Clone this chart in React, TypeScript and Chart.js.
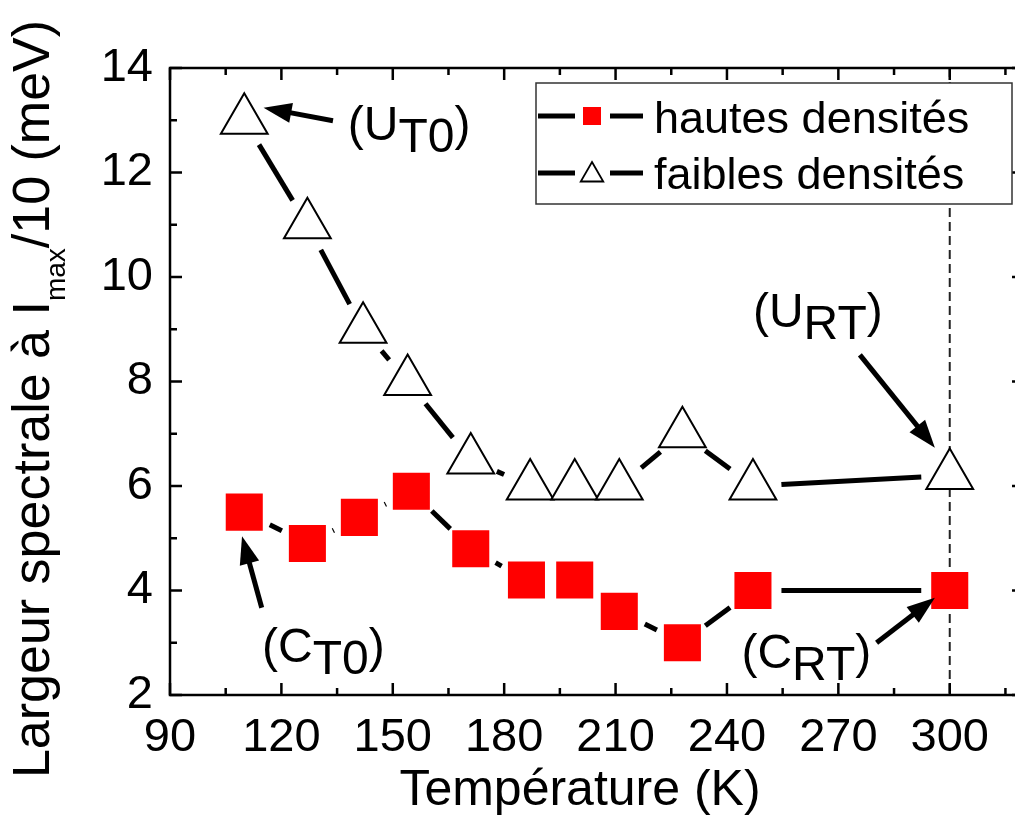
import React, { useEffect, useRef } from 'react';
import { Chart, registerables } from 'chart.js';

Chart.register(...registerables);

const FONT = '"Liberation Sans", Arial, Helvetica, sans-serif';

// ---- data ----
const tempHautes = [110, 127, 141, 155, 171, 186, 199, 211, 228, 247, 300];
const largeurHautes = [5.5, 4.9, 5.4, 5.9, 4.8, 4.2, 4.2, 3.6, 3.0, 4.0, 4.0];
const tempFaibles = [110, 127, 142, 154, 171, 187, 199, 211, 228, 247, 300];
const largeurFaibles = [13.0, 11.0, 9.0, 8.0, 6.5, 6.0, 6.0, 6.0, 7.0, 6.0, 6.2];
const seriesLabels = ['hautes densités', 'faibles densités'];
const xTicks = [90, 120, 150, 180, 210, 240, 270, 300];
const yTicks = [2, 4, 6, 8, 10, 12, 14];
const xTitle = 'Température (K)';
const yTitleParts = ['Largeur spectrale à I', 'max', '/10 (meV)'];
const refLineT = 300;

// annotation labels: text anchor and arrow (data coordinates)
const annotLabels = [
  { main: 'U', sub: 'T0', tx: 137.9, ty: 12.62, from: [133.9, 12.99], to: [115.2, 13.24] },
  { main: 'U', sub: 'RT', tx: 247.0, ty: 9.04, from: [275.8, 8.51], to: [296.0, 6.73] },
  { main: 'C', sub: 'T0', tx: 114.8, ty: 2.63, from: [114.7, 3.67], to: [109.4, 5.04] },
  { main: 'C', sub: 'RT', tx: 243.9, ty: 2.52, from: [280.3, 3.0], to: [296.0, 3.86] },
];

const GAP = 28.5;

function drawArrow(ctx: CanvasRenderingContext2D, x1: number, y1: number, x2: number, y2: number) {
  const ang = Math.atan2(y2 - y1, x2 - x1);
  const L = 28;
  const W = 10;
  const c = Math.cos(ang);
  const s = Math.sin(ang);
  const bx = x2 - c * L;
  const by = y2 - s * L;
  ctx.save();
  ctx.strokeStyle = '#000';
  ctx.fillStyle = '#000';
  ctx.lineWidth = 5;
  ctx.lineCap = 'butt';
  ctx.beginPath();
  ctx.moveTo(x1, y1);
  ctx.lineTo(bx + c * 4, by + s * 4);
  ctx.stroke();
  ctx.beginPath();
  ctx.moveTo(x2, y2);
  ctx.lineTo(bx - s * W, by + c * W);
  ctx.lineTo(bx + s * W, by - c * W);
  ctx.closePath();
  ctx.fill();
  ctx.restore();
}

function drawSubLabel(ctx: CanvasRenderingContext2D, x: number, y: number, main: string, sub: string) {
  ctx.save();
  ctx.font = `48px ${FONT}`;
  ctx.fillStyle = '#000';
  ctx.textAlign = 'left';
  ctx.textBaseline = 'alphabetic';
  let cx = x;
  const a = '(' + main;
  ctx.fillText(a, cx, y);
  cx += ctx.measureText(a).width;
  ctx.fillText(sub, cx, y + 12);
  cx += ctx.measureText(sub).width;
  ctx.fillText(')', cx, y);
  ctx.restore();
}

const gapLinePlugin = {
  id: 'gapLines',
  beforeDatasetsDraw(chart: any) {
    const ctx: CanvasRenderingContext2D = chart.ctx;
    const ca = chart.chartArea;
    const xs = chart.scales.x;
    const px = xs.getPixelForValue(refLineT);
    ctx.save();
    ctx.strokeStyle = '#222';
    ctx.lineWidth = 2;
    ctx.setLineDash([9, 5]);
    ctx.beginPath();
    ctx.moveTo(px, ca.top);
    ctx.lineTo(px, ca.bottom);
    ctx.stroke();
    ctx.restore();

    chart.data.datasets.forEach((_ds: any, i: number) => {
      const pts = chart.getDatasetMeta(i).data;
      ctx.save();
      ctx.strokeStyle = '#000';
      ctx.lineWidth = 5;
      ctx.lineCap = 'butt';
      for (let k = 0; k < pts.length - 1; k++) {
        const a = pts[k];
        const b = pts[k + 1];
        const dx = b.x - a.x;
        const dy = b.y - a.y;
        const d = Math.hypot(dx, dy);
        if (d <= 2 * GAP + 1) continue;
        const ux = dx / d;
        const uy = dy / d;
        ctx.beginPath();
        ctx.moveTo(a.x + ux * GAP, a.y + uy * GAP);
        ctx.lineTo(b.x - ux * GAP, b.y - uy * GAP);
        ctx.stroke();
      }
      ctx.restore();
    });
  },
  afterDraw(chart: any) {
    const ctx: CanvasRenderingContext2D = chart.ctx;
    const ca = chart.chartArea;
    const xs = chart.scales.x;
    const ys = chart.scales.y;

    // frame
    ctx.save();
    ctx.strokeStyle = '#000';
    ctx.lineWidth = 2.5;
    ctx.strokeRect(ca.left, ca.top, ca.right - ca.left, ca.bottom - ca.top);
    // ticks (inward)
    ctx.lineWidth = 2.5;
    for (let v = 90; v <= 320; v += 15) {
      const major = (v - 90) % 30 === 0;
      const len = major ? 12 : 7;
      const p = xs.getPixelForValue(v);
      ctx.beginPath();
      ctx.moveTo(p, ca.bottom);
      ctx.lineTo(p, ca.bottom - len);
      ctx.moveTo(p, ca.top);
      ctx.lineTo(p, ca.top + len);
      ctx.stroke();
    }
    for (let v = 2; v <= 14; v += 1) {
      const major = v % 2 === 0;
      const len = major ? 12 : 7;
      const p = ys.getPixelForValue(v);
      ctx.beginPath();
      ctx.moveTo(ca.left, p);
      ctx.lineTo(ca.left + len, p);
      ctx.moveTo(ca.right, p);
      ctx.lineTo(ca.right - len, p);
      ctx.stroke();
    }
    ctx.restore();

    // legend box
    const bl = ca.left + 366;
    const bt = ca.top + 15;
    const bw = 476;
    const bh = 121;
    ctx.save();
    ctx.fillStyle = '#fff';
    ctx.fillRect(bl, bt, bw, bh);
    ctx.strokeStyle = '#333';
    ctx.lineWidth = 1.5;
    ctx.strokeRect(bl, bt, bw, bh);
    const rows = [
      { ly: bt + 33, by: bt + 50 },
      { ly: bt + 90, by: bt + 106 },
    ];
    chart.data.datasets.forEach((ds: any, i: number) => {
      const r = rows[i];
      ctx.strokeStyle = '#000';
      ctx.lineWidth = 5;
      ctx.lineCap = 'butt';
      ctx.beginPath();
      ctx.moveTo(bl + 2, r.ly);
      ctx.lineTo(bl + 39, r.ly);
      ctx.moveTo(bl + 74, r.ly);
      ctx.lineTo(bl + 107, r.ly);
      ctx.stroke();
      const mx = bl + 56;
      if (ds.pointStyle === 'rect') {
        ctx.fillStyle = ds.pointBackgroundColor;
        ctx.fillRect(mx - 9, r.ly - 9, 18, 18);
      } else {
        const rr = 13;
        const my = r.ly + 2;
        ctx.beginPath();
        ctx.moveTo(mx, my - rr);
        ctx.lineTo(mx + Math.sin((2 * Math.PI) / 3) * rr, my + rr / 2);
        ctx.lineTo(mx - Math.sin((2 * Math.PI) / 3) * rr, my + rr / 2);
        ctx.closePath();
        ctx.fillStyle = '#fff';
        ctx.fill();
        ctx.lineWidth = 1.8;
        ctx.strokeStyle = '#000';
        ctx.stroke();
      }
      ctx.fillStyle = '#000';
      ctx.font = `45px ${FONT}`;
      ctx.textAlign = 'left';
      ctx.textBaseline = 'alphabetic';
      ctx.fillText(ds.label, bl + 118, r.by);
    });
    ctx.restore();

    // annotations
    annotLabels.forEach((a) => {
      drawSubLabel(ctx, xs.getPixelForValue(a.tx), ys.getPixelForValue(a.ty), a.main, a.sub);
      drawArrow(
        ctx,
        xs.getPixelForValue(a.from[0]),
        ys.getPixelForValue(a.from[1]),
        xs.getPixelForValue(a.to[0]),
        ys.getPixelForValue(a.to[1])
      );
    });

    // x axis title
    ctx.save();
    ctx.font = `50px ${FONT}`;
    ctx.fillStyle = '#000';
    ctx.textAlign = 'center';
    ctx.textBaseline = 'alphabetic';
    ctx.fillText(xTitle, ca.left + 410, ca.bottom + 110);
    ctx.restore();

    // y axis title with subscript
    ctx.save();
    const mainF = `52px ${FONT}`;
    const subF = `28px ${FONT}`;
    ctx.font = mainF;
    const w0 = ctx.measureText(yTitleParts[0]).width;
    const w2 = ctx.measureText(yTitleParts[2]).width;
    ctx.font = subF;
    const w1 = ctx.measureText(yTitleParts[1]).width;
    const total = w0 + w1 + w2;
    ctx.translate(49, 399);
    ctx.rotate(-Math.PI / 2);
    ctx.fillStyle = '#000';
    ctx.textAlign = 'left';
    ctx.textBaseline = 'alphabetic';
    let cx = -total / 2;
    ctx.font = mainF;
    ctx.fillText(yTitleParts[0], cx, 0);
    cx += w0;
    ctx.font = subF;
    ctx.fillText(yTitleParts[1], cx, 16);
    cx += w1;
    ctx.font = mainF;
    ctx.fillText(yTitleParts[2], cx, 0);
    ctx.restore();
  },
};

export default function App() {
  const ref = useRef<HTMLCanvasElement>(null);
  useEffect(() => {
    const canvas = ref.current;
    if (!canvas) return;
    const chart = new Chart(canvas, {
      type: 'scatter',
      data: {
        datasets: [
          {
            label: seriesLabels[0],
            data: tempHautes.map((t, i) => ({ x: t, y: largeurHautes[i] })),
            pointStyle: 'rect',
            pointRadius: 26.2,
            pointHoverRadius: 26.2,
            pointBackgroundColor: '#ff0000',
            pointBorderColor: '#ff0000',
            pointBorderWidth: 0,
            showLine: false,
          },
          {
            label: seriesLabels[1],
            data: tempFaibles.map((t, i) => ({ x: t, y: largeurFaibles[i] })),
            pointStyle: 'triangle',
            pointRadius: 27,
            pointHoverRadius: 27,
            pointBackgroundColor: '#ffffff',
            pointBorderColor: '#000000',
            pointBorderWidth: 2,
            showLine: false,
          },
        ] as any,
      },
      options: {
        animation: false,
        responsive: false,
        devicePixelRatio: 1,
        events: [],
        layout: { autoPadding: false, padding: { top: 68, right: 6, bottom: 0, left: 0 } },
        plugins: {
          legend: { display: false },
          tooltip: { enabled: false },
        },
        scales: {
          x: {
            type: 'linear',
            min: 90,
            max: 320,
            border: { display: false },
            grid: { display: false, drawTicks: false },
            ticks: {
              stepSize: 30,
              padding: 15,
              color: '#000',
              font: { family: FONT, size: 47 },
              maxRotation: 0,
            },
            afterBuildTicks: (s: any) => {
              s.ticks = xTicks.map((v) => ({ value: v }));
            },
            afterFit: (s: any) => {
              s.height = 121;
            },
            title: { display: false, text: xTitle },
          },
          y: {
            type: 'linear',
            min: 2,
            max: 14,
            border: { display: false },
            grid: { display: false, drawTicks: false },
            ticks: {
              stepSize: 2,
              padding: 17,
              color: '#000',
              font: { family: FONT, size: 47 },
            },
            afterBuildTicks: (s: any) => {
              s.ticks = yTicks.map((v) => ({ value: v }));
            },
            afterFit: (s: any) => {
              s.width = 170;
            },
          },
        },
      } as any,
      plugins: [gapLinePlugin],
    });
    return () => chart.destroy();
  }, []);

  return (
    <div
      style={{
        position: 'fixed',
        left: 0,
        top: 0,
        width: 1015,
        height: 816,
        overflow: 'hidden',
        background: '#fff',
      }}
    >
      <canvas ref={ref} width={1030} height={816} style={{ display: 'block' }} />
    </div>
  );
}
